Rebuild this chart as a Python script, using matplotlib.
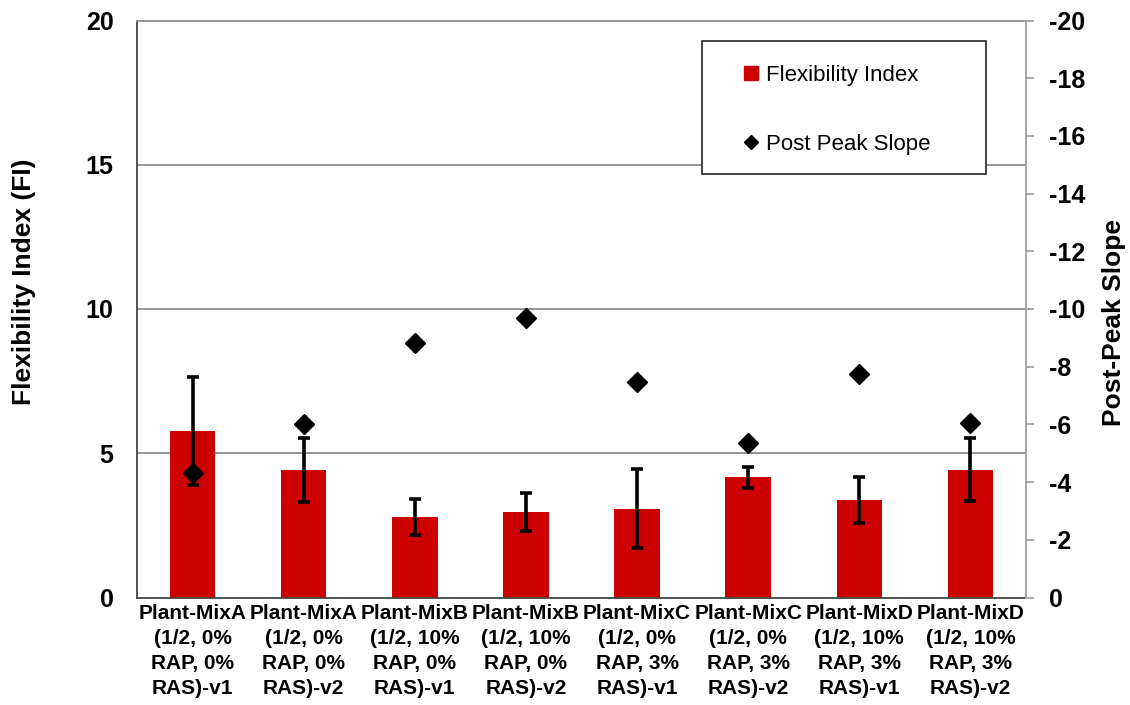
import matplotlib
matplotlib.use("Agg")
import matplotlib.pyplot as plt
from matplotlib.lines import Line2D
from matplotlib.patches import Rectangle
import numpy as np

plt.rcParams['font.family'] = ['Liberation Sans', 'DejaVu Sans']

categories = [
    "Plant-MixA\n(1/2, 0%\nRAP, 0%\nRAS)-v1",
    "Plant-MixA\n(1/2, 0%\nRAP, 0%\nRAS)-v2",
    "Plant-MixB\n(1/2, 10%\nRAP, 0%\nRAS)-v1",
    "Plant-MixB\n(1/2, 10%\nRAP, 0%\nRAS)-v2",
    "Plant-MixC\n(1/2, 0%\nRAP, 3%\nRAS)-v1",
    "Plant-MixC\n(1/2, 0%\nRAP, 3%\nRAS)-v2",
    "Plant-MixD\n(1/2, 10%\nRAP, 3%\nRAS)-v1",
    "Plant-MixD\n(1/2, 10%\nRAP, 3%\nRAS)-v2",
]
flexibility_index = [5.76, 4.42, 2.79, 2.95, 3.08, 4.16, 3.38, 4.43]
fi_error = [1.87, 1.12, 0.63, 0.66, 1.36, 0.35, 0.79, 1.09]
post_peak_slope = [-4.32, -6.02, -8.83, -9.68, -7.47, -5.35, -7.75, -6.05]

left_ticks = [0, 5, 10, 15, 20]
right_ticks = list(range(0, -21, -2))

bar_color = "#CC0000"

fig = plt.figure(figsize=(11.3, 7.05), dpi=100)
ax = fig.add_axes([137 / 1130, 1 - 597.5 / 705, 889 / 1130, 577 / 705])

x = np.arange(len(categories))
ax.bar(x, flexibility_index, width=0.41, color=bar_color, zorder=2)
ax.errorbar(x, flexibility_index, yerr=fi_error, fmt="none", ecolor="black",
            elinewidth=2.6, capsize=4, capthick=2.6, zorder=3)

ax.set_xlim(-0.5, len(categories) - 0.5)
ax.set_ylim(0, 20)
ax.set_yticks(left_ticks)
ax.set_yticklabels([str(t) for t in left_ticks], fontsize=18, fontweight="bold")
ax.set_xticks(x)
ax.set_xticklabels(categories, fontsize=15, fontweight="bold", linespacing=1.4)
ax.tick_params(axis="both", length=0)
ax.tick_params(axis="y", pad=17)
ax.tick_params(axis="x", pad=5)
for t in left_ticks[1:-1]:
    ax.axhline(t, color="#8c8c8c", lw=1.3, zorder=1)

ax.spines["left"].set_color("#444444")
ax.spines["bottom"].set_color("#444444")
ax.spines["top"].set_color("#8c8c8c")
ax.spines["right"].set_visible(False)
for s in ["left", "bottom", "top"]:
    ax.spines[s].set_linewidth(1.3)

ax.set_ylabel("Flexibility Index (FI)", fontsize=19, fontweight="bold")
ax.yaxis.set_label_coords(-0.1136, 0.547)

ax2 = ax.twinx()
ax2.plot(x, post_peak_slope, linestyle="none", marker="D", markersize=10,
         color="black", zorder=4)
ax2.set_ylim(0, -20)
ax2.set_yticks(right_ticks)
ax2.set_yticklabels([str(t) for t in right_ticks], fontsize=18, fontweight="bold")
ax2.tick_params(axis="y", direction="out", length=5.8, width=1.3,
                color="#a0a0a0", pad=11)
for s in ["left", "bottom", "top"]:
    ax2.spines[s].set_visible(False)
ax2.spines["right"].set_color("#a0a0a0")
ax2.spines["right"].set_linewidth(1.3)
ax2.set_ylabel("Post-Peak Slope", fontsize=19, fontweight="bold")
ax2.yaxis.set_label_coords(1.0855, 0.476)

# legend box
fig.patches.append(Rectangle((702 / 1130, 1 - 174 / 705), 284 / 1130, 133 / 705,
                             transform=fig.transFigure, facecolor="white",
                             edgecolor="#333333", lw=1.3, zorder=5))
handles = [
    Line2D([], [], linestyle="none", marker="s", markersize=9.5, color=bar_color),
    Line2D([], [], linestyle="none", marker="D", markersize=7, color="black"),
]
leg = fig.legend(handles, ["Flexibility Index", "Post Peak Slope"],
                 loc="upper left", bbox_to_anchor=(742 / 1130, 1 - 65 / 705),
                 frameon=False, fontsize=16, handlelength=0.8, handletextpad=0.3,
                 labelspacing=2.15, borderpad=0, borderaxespad=0)
leg.set_zorder(6)

fig.savefig("out.png", dpi=100)
